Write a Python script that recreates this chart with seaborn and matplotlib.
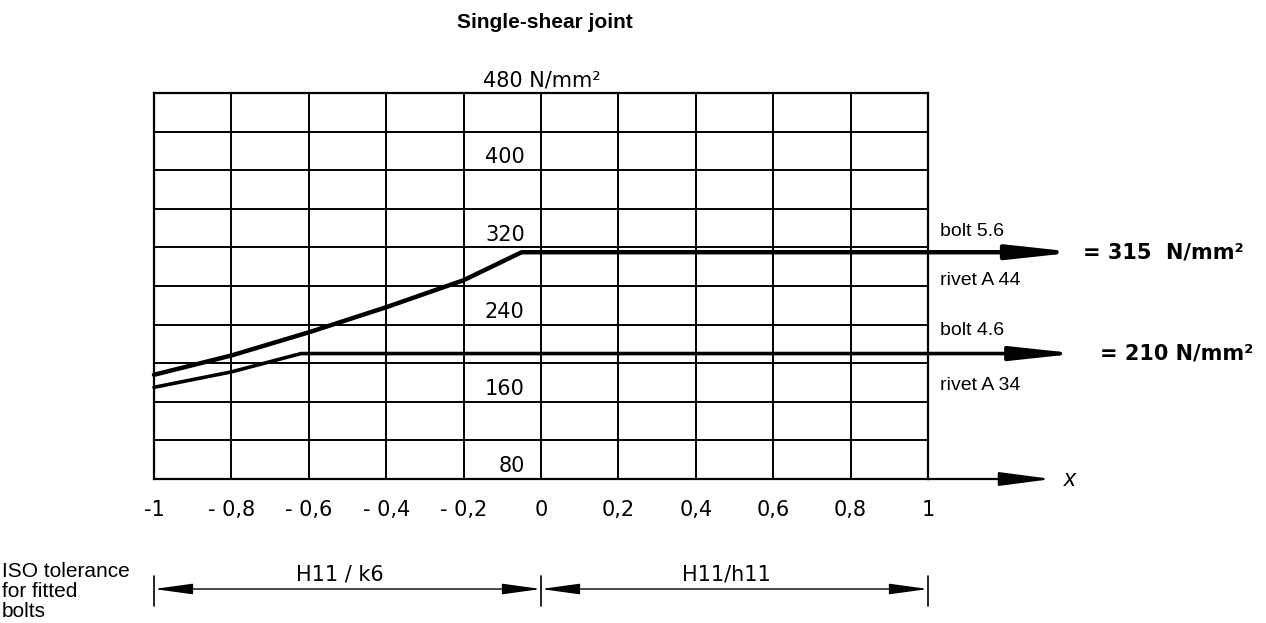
import numpy as np
import pandas as pd
import matplotlib
matplotlib.use("Agg")
import matplotlib.pyplot as plt
import seaborn as sns

# ==========================================================
# Data
# ==========================================================
x_ticks = [-1, -0.8, -0.6, -0.4, -0.2, 0, 0.2, 0.4, 0.6, 0.8, 1]
x_tick_labels = ["-1", "- 0,8", "- 0,6", "- 0,4", "- 0,2", "0",
                 "0,2", "0,4", "0,6", "0,8", "1"]
y_grid = [80, 120, 160, 200, 240, 280, 320, 360, 400, 440, 480]
y_labels = [80, 160, 240, 320, 400]

# bolt 5.6 / rivet A 44
upper_x = [-1.0, -0.8, -0.6, -0.4, -0.2, -0.05, 1.0]
upper_y = [188, 208, 232, 258, 286, 315, 315]
# bolt 4.6 / rivet A 34
lower_x = [-1.0, -0.8, -0.62, 1.0]
lower_y = [175, 191, 210, 210]

upper_limit = 315
lower_limit = 210

tolerance_ranges = [(-1, 0, "H11 / k6"), (0, 1, "H11/h11")]

num_font = ["DejaVu Sans"]
txt_font = ["Liberation Sans", "DejaVu Sans"]

# ==========================================================
# Figure
# ==========================================================
sns.set_style("white", {"text.color": "black", "xtick.color": "black",
                        "ytick.color": "black", "axes.edgecolor": "black"})
W, H = 1266, 623
fig = plt.figure(figsize=(W / 100, H / 100), dpi=100)
ax = fig.add_axes([154 / W, 1 - 479 / H, (928 - 154) / W, (479 - 93) / H])

ax.set_xlim(-1, 1)
ax.set_ylim(80, 480)
ax.set_xticks(x_ticks)
ax.set_xticklabels(x_tick_labels, family=num_font, fontsize=15)
ax.set_yticks(y_grid)
ax.set_yticklabels([])
ax.tick_params(length=0, axis="x", pad=15)
ax.tick_params(length=0, axis="y")
ax.grid(True, color="black", lw=1.4)
for s in ax.spines.values():
    s.set_color("black")
    s.set_linewidth(1.6)

curves = pd.DataFrame({"x": upper_x + lower_x,
                       "y": upper_y + lower_y,
                       "joint": ["upper"] * len(upper_x) + ["lower"] * len(lower_x)})
sns.lineplot(data=curves[curves.joint == "upper"], x="x", y="y", color="black",
             lw=3.2, ax=ax, clip_on=False, sort=False)
sns.lineplot(data=curves[curves.joint == "lower"], x="x", y="y", color="black",
             lw=2.6, ax=ax, clip_on=False, sort=False)
ax.set_xlabel("")
ax.set_ylabel("")

# arrows carrying the plateau values out to the right
for val, lw in [(upper_limit, 3.2), (lower_limit, 2.6)]:
    ax.annotate("", xy=(1.385, val), xytext=(1.0, val), annotation_clip=False,
                arrowprops=dict(arrowstyle="-|>,head_length=3.9,head_width=0.42",
                                mutation_scale=10, color="black", lw=lw,
                                shrinkA=0, shrinkB=0))
ax.annotate("", xy=(1.32, 80), xytext=(1.0, 80), annotation_clip=False,
            arrowprops=dict(arrowstyle="-|>,head_length=3.2,head_width=0.42",
                            mutation_scale=10, color="black", lw=1.6,
                            shrinkA=0, shrinkB=0))
ax.text(1.352, 80, "x", fontsize=17, style="italic", family=txt_font,
        ha="left", va="center")

# y values written inside the grid
for v in y_labels:
    ax.text(-0.042, v + 3, str(v), family=num_font, fontsize=15,
            ha="right", va="bottom")
ax.text(-0.15, 483, "480 N/mm²", family=num_font, fontsize=15,
        ha="left", va="bottom")

# right-hand labels
for yv, lab in [(336, "bolt 5.6"), (286, "rivet A 44"),
                (234, "bolt 4.6"), (177, "rivet A 34")]:
    ax.text(1.03, yv, lab, family=txt_font, fontsize=14, ha="left", va="center")
ax.text(1.40, upper_limit, f"= {upper_limit}  N/mm²", family=num_font, fontsize=15,
        weight="bold", ha="left", va="center")
ax.text(1.445, lower_limit, f"= {lower_limit} N/mm²", family=num_font, fontsize=15,
        weight="bold", ha="left", va="center")

# ISO tolerance brackets below the axis
y_br = -34
for x0, x1, lab in tolerance_ranges:
    ax.annotate("", xy=(x0, y_br), xytext=(x1, y_br), annotation_clip=False,
                arrowprops=dict(arrowstyle="<|-|>,head_length=2.4,head_width=0.33",
                                mutation_scale=10, color="black", lw=1.0,
                                shrinkA=0, shrinkB=0))
    ax.text((x0 + x1) / 2 - 0.02, y_br + 5, lab, family=num_font, fontsize=15,
            ha="center", va="bottom")
for xv in [-1, 0, 1]:
    ax.plot([xv, xv], [-21, -52], color="black", lw=1.2, clip_on=False)

fig.text(2 / W, 1 - 562 / H, "ISO tolerance\nfor fitted\nbolts", family=txt_font,
         fontsize=15, ha="left", va="top", linespacing=1.08)

fig.text(545 / W, 1 - 22 / H, "Single-shear joint", family=txt_font, fontsize=15,
         weight="bold", ha="center", va="center")

fig.savefig("out.png", dpi=100)
